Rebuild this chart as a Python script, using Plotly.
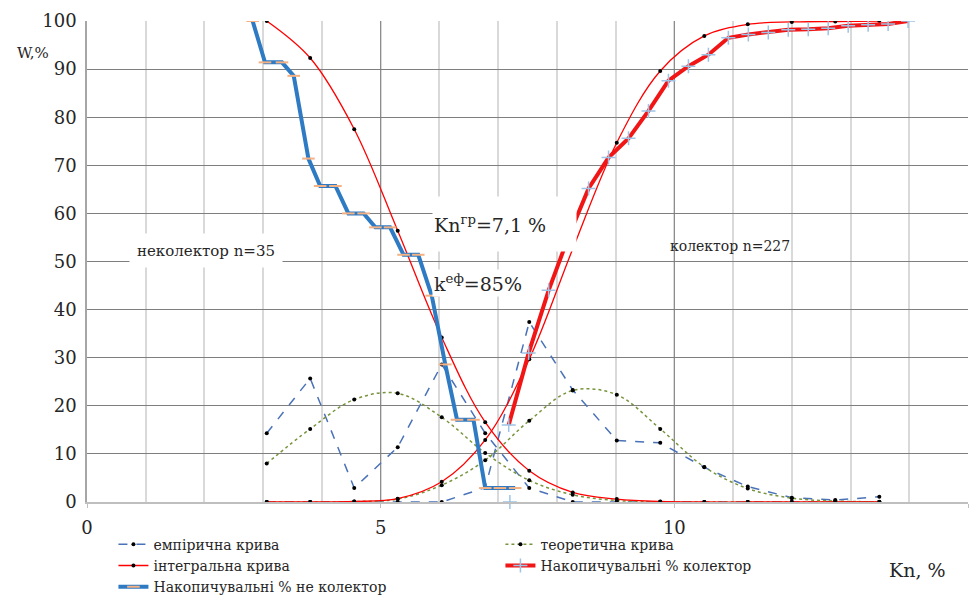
import plotly.graph_objects as go

# ---- data ----
kn = [3.06, 3.80, 4.55, 5.29, 6.04, 6.78, 7.53, 8.27, 9.02, 9.76, 10.51, 11.25, 12.00, 12.74, 13.49]
emp_noncol = [14.3, 25.7, 2.9, 11.4, 28.6, 14.3, 2.9, 0, 0, 0, 0, 0, 0, 0, 0]
emp_col = [0, 0, 0, 0, 0, 3.0, 37.4, 23.3, 12.8, 12.3, 7.2, 3.2, 0.9, 0.4, 1.1]
theo_noncol = [8.0, 15.2, 21.3, 22.6, 17.6, 10.2, 4.5, 1.5, 0.3, 0.05, 0, 0, 0, 0, 0]
theo_col = [0, 0, 0.1, 0.6, 3.5, 8.7, 16.9, 23.2, 22.3, 15.2, 7.3, 2.8, 0.8, 0.2, 0.05]
integ_noncol = [100, 92.3, 77.5, 56.4, 34.2, 16.6, 6.5, 2.0, 0.6, 0.1, 0, 0, 0, 0, 0]
integ_col = [0, 0, 0.1, 0.7, 4.2, 12.9, 29.7, 52.6, 74.7, 89.6, 96.9, 99.3, 99.8, 99.9, 100]

nc_x = [2.82, 3.03, 3.32, 3.52, 3.77, 3.97, 4.23, 4.45, 4.71, 4.91, 5.16, 5.39, 5.64, 5.87,
        6.10, 6.30, 6.58, 6.78, 7.03, 7.29]
nc_y = [100, 91.4, 91.4, 88.6, 71.4, 65.7, 65.7, 60.0, 60.0, 57.1, 57.1, 51.4, 51.4, 42.9,
        28.6, 17.1, 17.1, 2.9, 2.9, 2.9]

c_x = [7.18, 7.52, 7.86, 8.20, 8.54, 8.88, 9.22, 9.56, 9.90, 10.24, 10.58, 10.92, 11.26, 11.60,
       11.94, 12.28, 12.62, 12.96, 13.30, 13.64, 13.98]
c_y = [16.0, 31.0, 44.0, 55.2, 65.2, 71.6, 75.6, 81.3, 87.6, 90.6, 93.0, 96.5, 97.2, 97.6,
       98.2, 98.3, 98.5, 99.0, 99.2, 99.4, 100]
col_base_x = [7.2]
col_base_y = [0]

x_ticks = [0, 5, 10, 15]
y_ticks = [0, 10, 20, 30, 40, 50, 60, 70, 80, 90, 100]

names = ["емпірична крива", "теоретична крива", "інтегральна крива",
         "Накопичувальні % колектор", "Накопичувальні % не колектор"]

SERIF = "DejaVu Serif"
BLUE_D = "#4a72b8"
GREEN = "#77933c"
RED = "#ff0000"
THICK_BLUE = "#2e7bc4"
THICK_RED = "#f21515"
TXT = "#262626"

dot = dict(color="black", size=4)

fig = go.Figure()

# empirical
fig.add_trace(go.Scatter(x=kn, y=emp_noncol, mode="lines+markers", name=names[0],
                         legendgroup="emp", line=dict(color=BLUE_D, width=1.5, dash="dash"),
                         marker=dot))
fig.add_trace(go.Scatter(x=kn, y=emp_col, mode="lines+markers", name=names[0],
                         legendgroup="emp", showlegend=False,
                         line=dict(color=BLUE_D, width=1.5, dash="dash"), marker=dot))
# theoretical
fig.add_trace(go.Scatter(x=kn, y=theo_noncol, mode="lines+markers", name=names[1],
                         legendgroup="theo", line=dict(color=GREEN, width=1.5, dash="dot", shape="spline"),
                         marker=dot))
fig.add_trace(go.Scatter(x=kn, y=theo_col, mode="lines+markers", name=names[1],
                         legendgroup="theo", showlegend=False,
                         line=dict(color=GREEN, width=1.5, dash="dot", shape="spline"), marker=dot))
# integral
fig.add_trace(go.Scatter(x=kn, y=integ_noncol, mode="lines+markers", name=names[2],
                         legendgroup="int", line=dict(color=RED, width=1.3, shape="spline"),
                         marker=dot))
fig.add_trace(go.Scatter(x=kn, y=integ_col, mode="lines+markers", name=names[2],
                         legendgroup="int", showlegend=False,
                         line=dict(color=RED, width=1.3, shape="spline"), marker=dot))
# cumulative collector
cross = dict(symbol="cross-thin", size=10, color="#9dc3e6",
             line=dict(color="#9dc3e6", width=1.5))
fig.add_trace(go.Scatter(x=c_x, y=c_y, mode="lines+markers", name=names[3],
                         legendgroup="col", line=dict(color=THICK_RED, width=4),
                         marker=cross))
fig.add_trace(go.Scatter(x=col_base_x, y=col_base_y, mode="markers", name=names[3],
                         legendgroup="col", showlegend=False, marker=cross, cliponaxis=False))
# cumulative non-collector
fig.add_trace(go.Scatter(x=nc_x, y=nc_y, mode="lines+markers", name=names[4],
                         legendgroup="nc", line=dict(color=THICK_BLUE, width=4),
                         marker=dict(symbol="line-ew", size=9, color="#f4b183",
                                     line=dict(color="#f4b183", width=2))))

fig.update_layout(
    width=978, height=606,
    margin=dict(l=87, r=10, t=21, b=104, autoexpand=False),
    paper_bgcolor="white", plot_bgcolor="white",
    font=dict(family=SERIF, color=TXT),
    xaxis=dict(range=[0, 15], tickvals=x_ticks, showgrid=True, gridcolor="#8c8c8c", gridwidth=1.2,
               minor=dict(dtick=1, showgrid=True, gridcolor="#d9d9d9", gridwidth=1.5),
               zeroline=False, showline=True, linecolor="#bfbfbf", linewidth=2,
               ticks="outside", ticklen=4, tickcolor="#bfbfbf",
               tickfont=dict(family=SERIF, size=18, color=TXT), ticklabelstandoff=4),
    yaxis=dict(range=[0, 100], tickvals=y_ticks, showgrid=True, gridcolor="#7f7f7f", gridwidth=1.2,
               zeroline=False, showline=True, linecolor="#a6a6a6", linewidth=1.5,
               tickfont=dict(family=SERIF, size=18, color=TXT), ticklabelstandoff=5),
    legend=dict(orientation="h", x=0.03, y=-0.0555, xanchor="left", yanchor="top",
                entrywidth=342, entrywidthmode="pixels", traceorder="normal",
                font=dict(family=SERIF, size=14, color=TXT), tracegroupgap=0,
                itemwidth=30, bgcolor="rgba(0,0,0,0)"),
    showlegend=True,
)

fig.add_annotation(text="неколектор n=35", x=2.02, y=52.3, xref="x", yref="y", showarrow=False,
                   font=dict(family=SERIF, size=15, color=TXT), bgcolor="white",
                   width=150, height=31)
fig.add_annotation(text="Kn<sup>гр</sup>=7,1 %", x=7.11, y=57.8, xref="x", yref="y", showarrow=False,
                   font=dict(family=SERIF, size=19, color=TXT), bgcolor="white",
                   width=141, height=52, align="left", valign="middle")
fig.add_annotation(text="k<sup>еф</sup>=85%", x=6.66, y=45.5, xref="x", yref="y", showarrow=False,
                   font=dict(family=SERIF, size=19, color=TXT), bgcolor="white")
fig.add_annotation(text="колектор n=227", x=10.95, y=53.2, xref="x", yref="y", showarrow=False,
                   font=dict(family=SERIF, size=14, color=TXT))
fig.add_annotation(text="W,%", x=-0.0613, y=0.9335, xref="paper", yref="paper", showarrow=False,
                   xanchor="center", yanchor="middle",
                   font=dict(family=SERIF, size=15, color=TXT))
fig.add_annotation(text="Kn, %", x=0.943, y=-0.1414, xref="paper", yref="paper", showarrow=False,
                   xanchor="center", yanchor="middle",
                   font=dict(family=SERIF, size=19, color=TXT))

fig.write_html("out.html")
